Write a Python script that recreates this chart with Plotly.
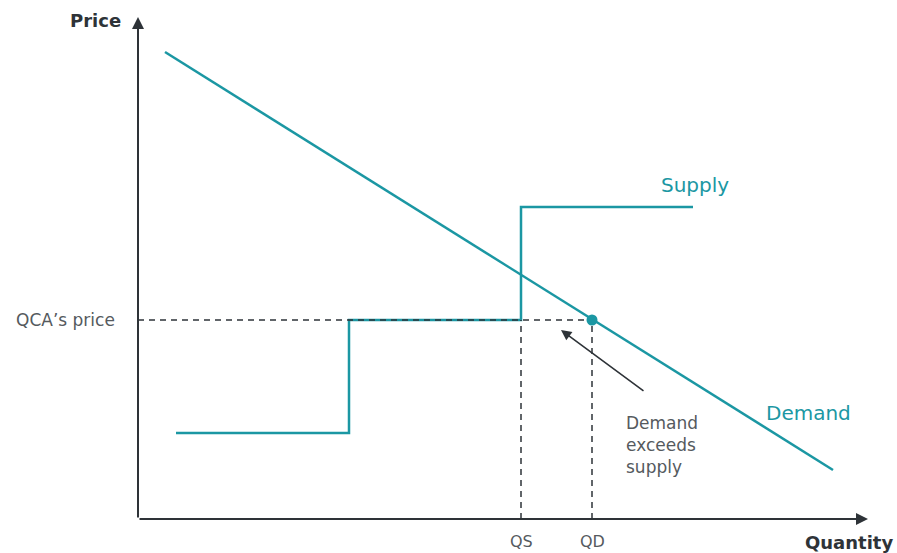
import plotly.graph_objects as go

# Schematic units: origin at the axes corner
demand_q = [27, 695]
demand_p = [467, 49]
supply_q = [38, 211, 211, 383, 383, 555]
supply_p = [86, 86, 199, 199, 312, 312]
qca_price = 199
qs = 383
qd = 454
x_max = 730
y_max = 502

TEAL = "#1b97a3"
DARK = "#2e3338"
GREY = "#555a5e"
FONT = "DejaVu Sans"

fig = go.Figure()

fig.add_trace(go.Scatter(x=demand_q, y=demand_p, mode="lines",
                         line=dict(color=TEAL, width=2.5), hoverinfo="skip"))
fig.add_trace(go.Scatter(x=supply_q, y=supply_p, mode="lines",
                         line=dict(color=TEAL, width=2.5), hoverinfo="skip"))
# dashed guides
fig.add_trace(go.Scatter(x=[0, qd], y=[qca_price, qca_price], mode="lines",
                         line=dict(color=DARK, width=1.5, dash="6px,5px"), hoverinfo="skip"))
fig.add_trace(go.Scatter(x=[qs, qs], y=[0, qca_price], mode="lines",
                         line=dict(color=DARK, width=1.5, dash="6px,5px"), hoverinfo="skip"))
fig.add_trace(go.Scatter(x=[qd, qd], y=[0, qca_price], mode="lines",
                         line=dict(color=DARK, width=1.5, dash="6px,5px"), hoverinfo="skip"))
fig.add_trace(go.Scatter(x=[qd], y=[qca_price], mode="markers",
                         marker=dict(color=TEAL, size=11), hoverinfo="skip"))

ann = []
# axes with arrowheads
ann.append(dict(x=0, y=y_max, ax=0, ay=0, xref="x", yref="y", axref="x", ayref="y",
                text="", showarrow=True, arrowhead=2, arrowsize=1.2, arrowwidth=2,
                arrowcolor=DARK))
ann.append(dict(x=x_max, y=0, ax=0, ay=0, xref="x", yref="y", axref="x", ayref="y",
                text="", showarrow=True, arrowhead=2, arrowsize=1.2, arrowwidth=2,
                arrowcolor=DARK))
# excess demand arrow
ann.append(dict(x=423, y=189, ax=507, ay=127, xref="x", yref="y", axref="x", ayref="y",
                text="", showarrow=True, arrowhead=2, arrowsize=1.3, arrowwidth=1.6,
                arrowcolor=DARK))

def label(x, y, text, size, color, bold=False, xanchor="center", yanchor="middle", align="center"):
    t = f"<b>{text}</b>" if bold else text
    ann.append(dict(x=x, y=y, xref="x", yref="y", text=t, showarrow=False,
                    font=dict(family=FONT, size=size, color=color),
                    xanchor=xanchor, yanchor=yanchor, align=align))

label(-43, 499, "Price", 18, DARK, bold=True)
label(711, -23, "Quantity", 18, DARK, bold=True)
label(-21, qca_price, "QCA\u2019s price", 17, GREY, xanchor="right")
label(qs, -22, "QS", 16, GREY)
label(qd, -22, "QD", 16, GREY)
label(557, 334, "Supply", 20, TEAL)
label(670, 106, "Demand", 20, TEAL)
label(486, 74, "Demand<br>exceeds<br>supply", 17, GREY, xanchor="left", align="left")

fig.update_layout(
    width=897, height=553,
    margin=dict(l=0, r=0, t=0, b=0),
    paper_bgcolor="white", plot_bgcolor="white",
    showlegend=False,
    xaxis=dict(range=[-138, 759], visible=False, fixedrange=True),
    yaxis=dict(range=[-34, 519], visible=False, fixedrange=True),
    annotations=ann,
)

fig.write_html("out.html")
